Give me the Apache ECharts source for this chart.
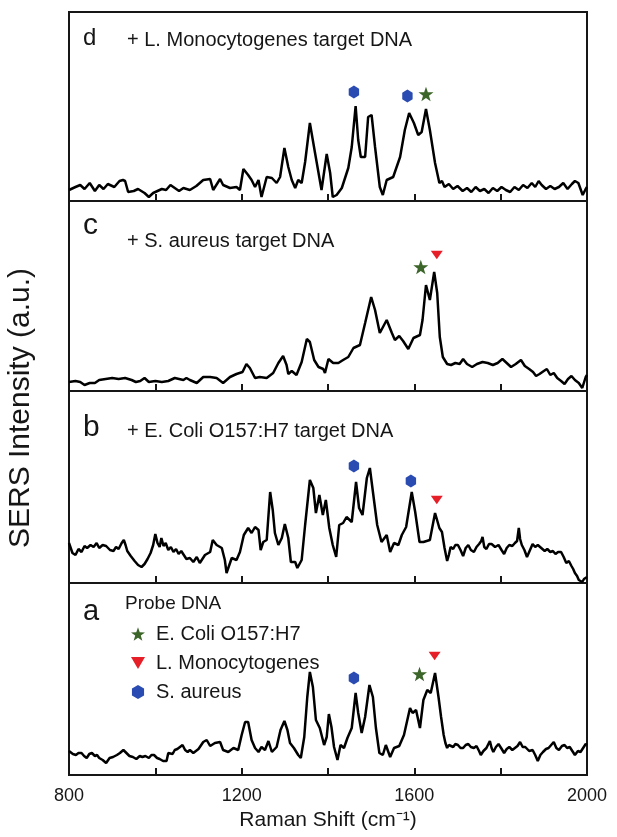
<!DOCTYPE html>
<html>
<head>
<meta charset="utf-8">
<script src="https://cdn.jsdelivr.net/npm/echarts@6/dist/echarts.min.js"></script>
<style>
  html, body { margin: 0; padding: 0; background: #fff; }
  #chart { width: 617px; height: 837px; }
</style>
</head>
<body>
<div id="chart"></div>
<script>
// Raman shift (cm-1), intensity (a.u., arbitrary offset)
const specD = [
  [800,11],[804,12],[815,14],[826,16],[836,12],[848,18],[860,10],[870,16],[880,12],[890,17],[905,14],[917,20],[925,21],[930,20],[937,9],
  [950,10],[960,12],[975,8],[985,4],[995,8],[1005,10],[1015,12],[1025,11],[1035,16],[1045,13],[1055,10],[1065,13],
  [1080,11],[1095,15],[1111,21],[1127,22],[1134,11],[1150,22],[1157,16],[1173,13],[1188,14],[1196,11],[1204,32],[1215,26],[1223,21],
  [1231,14],[1239,21],[1246,4],[1258,24],[1270,23],[1281,18],[1289,24],[1299,53],[1308,34],[1316,21],[1324,13],[1331,21],[1339,18],
  [1347,39],[1358,78],[1370,48],[1385,11],[1397,47],[1405,28],[1411,4],[1420,6],[1432,13],[1447,33],[1455,54],[1464,95],[1470,61],
  [1476,44],[1486,44],[1493,84],[1501,86],[1509,54],[1520,14],[1527,6],[1536,21],[1551,24],[1567,44],[1578,71],[1588,88],[1599,78],
  [1609,66],[1617,69],[1627,92],[1636,71],[1648,38],[1658,18],
  [1664,20],[1670,14],[1680,17],[1690,12],[1700,15],[1712,10],[1722,13],[1732,9],[1742,14],[1752,10],[1762,12],[1772,8],[1782,13],
  [1792,10],[1802,14],[1812,11],[1822,9],[1832,14],[1842,11],[1852,16],[1862,13],[1872,18],[1880,14],[1888,20],[1895,16],[1905,12],
  [1915,15],[1925,12],[1935,14],[1945,18],[1955,12],[1965,17],[1972,20],[1980,18],[1990,6],[1997,12],[2000,14]
];
const specC = [
  [800,9],[804,9],[815,10],[826,9],[836,6],[848,8],[860,8],[870,11],[885,12],[900,13],[915,12],[930,13],[945,11],[955,9],[965,10],
  [975,13],[985,9],[1000,10],[1015,9],[1030,10],[1045,13],[1055,12],[1065,11],[1072,13],
  [1080,11],[1096,8],[1111,14],[1127,14],[1142,13],[1157,8],[1173,14],[1188,17],[1202,19],[1211,27],[1219,23],[1231,13],[1242,14],
  [1258,13],[1273,18],[1285,28],[1296,35],[1304,26],[1308,17],[1316,20],[1327,16],[1339,29],[1351,52],[1358,49],[1368,31],[1378,24],
  [1389,22],[1393,18],[1401,32],[1412,28],[1424,28],[1435,31],[1447,34],[1459,43],[1474,46],[1486,68],[1500,94],[1509,81],[1520,58],
  [1536,71],[1548,58],[1555,51],[1565,55],[1574,50],[1586,42],[1598,53],[1613,56],[1619,71],[1627,106],[1636,91],[1646,119],[1653,98],
  [1659,54],
  [1666,34],[1676,27],[1685,26],[1695,28],[1705,27],[1713,32],[1722,27],[1734,24],[1745,27],[1758,29],[1770,28],[1782,26],[1793,28],
  [1804,32],[1814,28],[1824,24],[1835,27],[1847,31],[1856,25],[1866,22],[1875,19],[1882,15],[1890,17],[1900,20],[1907,22],[1915,16],
  [1923,18],[1931,13],[1940,10],[1948,7],[1956,12],[1964,15],[1972,11],[1981,8],[1989,3],[1997,14],[2000,16]
];
const specB = [
  [800,40],[802,39],[808,30],[815,28],[822,34],[829,31],[836,37],[842,35],[850,38],[857,36],[864,40],[870,35],[878,38],[886,37],
  [895,33],[903,32],[909,36],[915,34],[922,40],[927,43],[931,38],[935,32],[943,27],[952,22],[960,18],[968,16],[975,19],[982,24],
  [989,30],[995,38],[1000,49],[1005,40],[1010,36],[1014,45],[1019,37],[1024,40],[1030,33],[1036,36],[1042,31],[1048,34],[1054,29],
  [1060,32],[1066,28],[1072,24],[1076,22],
  [1080,25],[1088,21],[1096,26],[1103,20],[1115,28],[1127,31],[1133,43],[1142,38],[1154,35],[1161,23],[1165,10],[1177,25],[1188,23],
  [1196,31],[1205,48],[1215,55],[1223,50],[1231,56],[1239,53],[1244,33],[1250,41],[1258,43],[1266,91],[1272,73],[1277,50],[1285,38],
  [1293,45],[1300,59],[1308,45],[1314,21],[1324,21],[1329,15],[1339,23],[1347,58],[1358,103],[1366,95],[1372,70],[1380,88],[1388,68],
  [1395,83],[1403,55],[1411,38],[1419,26],[1426,58],[1435,60],[1443,66],[1455,61],[1465,101],[1472,75],[1480,68],[1490,105],[1497,115],
  [1505,88],[1514,58],[1524,41],[1536,48],[1544,31],[1553,40],[1563,38],[1571,48],[1581,56],[1594,91],[1602,71],[1612,41],[1621,41],
  [1636,43],[1648,70],[1658,55],
  [1664,51],[1670,35],[1676,22],[1680,28],[1684,36],[1690,34],[1695,38],[1701,38],[1707,33],[1713,27],[1719,35],[1725,38],[1731,33],
  [1738,31],[1744,36],[1750,39],[1755,42],[1758,46],[1762,36],[1767,34],[1773,39],[1779,39],[1787,36],[1795,38],[1802,33],[1808,29],
  [1814,35],[1820,38],[1827,37],[1833,40],[1838,42],[1842,55],[1845,44],[1849,38],[1855,33],[1861,26],[1868,33],[1874,39],[1880,36],
  [1886,38],[1894,35],[1902,32],[1908,34],[1915,31],[1921,32],[1927,29],[1933,31],[1940,31],[1946,26],[1952,20],[1958,22],[1964,17],
  [1968,14],[1972,10],[1977,7],[1981,3],[1985,2],[1989,1],[1993,4],[1997,5],[2000,6]
];
const specA = [
  [800,24],[802,23],[809,21],[816,20],[822,22],[829,22],[835,19],[841,17],[847,21],[853,22],[860,19],[865,20],[870,17],[878,15],
  [886,12],[894,17],[902,18],[911,20],[918,22],[926,25],[933,22],[940,19],[948,18],[956,16],[964,19],[970,18],[977,19],[985,17],
  [991,20],[997,20],[1004,17],[1010,16],[1018,14],[1026,14],[1030,22],[1034,23],[1040,21],[1045,25],[1051,26],[1057,28],[1063,30],
  [1069,25],[1075,23],
  [1080,25],[1088,22],[1100,26],[1111,33],[1119,35],[1127,29],[1138,32],[1150,33],[1157,25],[1169,23],[1181,27],[1192,25],[1200,40],
  [1208,53],[1215,53],[1223,35],[1231,27],[1239,23],[1246,28],[1254,25],[1262,34],[1270,23],[1281,28],[1290,45],[1299,54],[1306,45],
  [1312,32],[1321,27],[1331,20],[1337,17],[1345,38],[1352,78],[1358,103],[1365,88],[1372,55],[1381,47],[1391,30],[1397,38],[1402,61],
  [1408,48],[1414,28],[1422,15],[1429,30],[1437,27],[1445,37],[1455,47],[1464,82],[1470,62],[1478,42],[1486,58],[1496,90],[1504,78],
  [1511,47],[1519,22],[1527,20],[1534,30],[1544,18],[1553,27],[1565,29],[1576,40],[1590,67],[1596,62],[1604,65],[1613,47],[1621,75],
  [1630,85],[1638,82],[1648,102],[1656,78],
  [1662,58],[1668,40],[1672,32],[1676,27],[1680,30],[1684,31],[1690,28],[1695,31],[1701,30],[1707,27],[1713,27],[1719,30],[1725,31],
  [1731,28],[1738,27],[1744,29],[1750,24],[1754,20],[1760,24],[1767,27],[1771,29],[1775,34],[1779,27],[1783,23],[1789,28],[1795,31],
  [1801,27],[1808,22],[1814,26],[1820,28],[1827,25],[1833,27],[1839,29],[1845,33],[1851,28],[1857,28],[1866,24],[1874,25],[1880,20],
  [1886,14],[1892,20],[1898,23],[1905,26],[1911,27],[1917,30],[1923,33],[1929,27],[1935,25],[1942,29],[1948,30],[1954,27],[1960,28],
  [1966,24],[1972,20],[1979,24],[1985,23],[1991,27],[1997,31],[2000,30]
];

// peak markers per panel [shift, height]
const hexMarks  = [[[1460,109],[1584,105]], [], [[1460,117],[1592,102]], [[1460,97]]];
const starMarks = [[[1627,107]], [[1615,124]], [], [[1612,101]]];
const triMarks  = [[], [[1652,136]], [[1652,83]], [[1647,119]]];

const xLabels = [800, 1200, 1600, 2000];
const panelLetters = ['d', 'c', 'b', 'a'];
const panelNotes = ['+ L. Monocytogenes target DNA', '+ S. aureus target DNA', '+ E. Coli O157:H7 target DNA', 'Probe DNA'];
const spectra = [specD, specC, specB, specA];

const FONT = '"Liberation Sans", Arial, Helvetica, sans-serif';
const INK = '#161616';
const HEX = 'path://M0,-1 L0.866,-0.5 L0.866,0.5 L0,1 L-0.866,0.5 L-0.866,-0.5 Z';
const STAR = 'path://M0,-10 L2.35,-3.24 L9.51,-3.09 L3.8,1.24 L5.88,8.09 L0,4 L-5.88,8.09 L-3.8,1.24 L-9.51,-3.09 L-2.35,-3.24 Z';
const TRI = 'path://M-1,-0.87 L1,-0.87 L0,0.87 Z';

const panels = [
  { top: 12, height: 189, letterY: 38, letterSize: 24, noteY: 40 },
  { top: 201, height: 190, letterY: 226, letterSize: 30, noteY: 241 },
  { top: 391, height: 192, letterY: 428, letterSize: 30, noteY: 431 },
  { top: 583, height: 192, letterY: 612, letterSize: 29, noteY: 604 }
];

const chart = echarts.init(document.getElementById('chart'), null, { renderer: 'canvas' });

const grid = [], xAxis = [], yAxis = [], series = [], graphic = [];

panels.forEach((p, i) => {
  const last = i === panels.length - 1;
  grid.push({
    left: 69, right: 30, top: p.top, height: p.height,
    show: true, borderColor: INK, borderWidth: 2, backgroundColor: 'transparent'
  });
  xAxis.push({
    type: 'value', gridIndex: i, min: 800, max: 2000, interval: 200,
    axisLine: { show: false },
    axisTick: { show: true, inside: true, length: 7, lineStyle: { color: INK, width: 2 } },
    splitLine: { show: false },
    axisLabel: {
      show: last, margin: 12, fontSize: 18, color: INK, fontFamily: FONT,
      formatter: v => (xLabels.includes(v) ? String(v) : '')
    },
    name: last ? 'Raman Shift (cm\u207B\u00B9)' : '',
    nameLocation: 'middle', nameGap: 35,
    nameTextStyle: { fontSize: 21, color: INK, fontFamily: FONT }
  });
  yAxis.push({ type: 'value', gridIndex: i, min: 0, max: p.height, show: false });

  series.push({
    type: 'line', xAxisIndex: i, yAxisIndex: i, data: spectra[i],
    showSymbol: false, lineStyle: { color: '#000', width: 2.5 }, silent: true, z: 3
  });
  series.push({
    name: 'S. aureus', type: 'scatter', xAxisIndex: i, yAxisIndex: i, data: hexMarks[i],
    symbol: HEX, symbolSize: [12, 13], symbolKeepAspect: true, itemStyle: { color: '#2a4cb2', opacity: 1 }, z: 4
  });
  series.push({
    name: 'E. Coli O157:H7', type: 'scatter', xAxisIndex: i, yAxisIndex: i, data: starMarks[i],
    symbol: STAR, symbolSize: 15, symbolKeepAspect: true, itemStyle: { color: '#3b6529', opacity: 1 }, z: 4
  });
  series.push({
    name: 'L. Monocytogenes', type: 'scatter', xAxisIndex: i, yAxisIndex: i, data: triMarks[i],
    symbol: TRI, symbolSize: [12, 10], symbolKeepAspect: true, itemStyle: { color: '#e61e28', opacity: 1 }, z: 4
  });

  graphic.push({
    type: 'text', left: 83, top: p.letterY - p.letterSize / 2,
    style: { text: panelLetters[i], fontSize: p.letterSize, fontFamily: FONT, fill: INK }
  });
  graphic.push({
    type: 'text', left: last ? 125 : 127, top: p.noteY - 10,
    style: { text: panelNotes[i], fontSize: last ? 19 : 20, fontFamily: FONT, fill: INK }
  });
});

graphic.push({
  type: 'text', x: 21, y: 408, rotation: Math.PI / 2,
  style: { text: 'SERS Intensity (a.u.)', fontSize: 30, fontFamily: FONT, fill: INK, align: 'center', verticalAlign: 'middle' }
});

chart.setOption({
  animation: false,
  backgroundColor: '#fff',
  grid, xAxis, yAxis, series, graphic,
  legend: {
    orient: 'vertical', left: 126, top: 619, itemWidth: 14, itemHeight: 14, itemGap: 9,
    data: ['E. Coli O157:H7', 'L. Monocytogenes', 'S. aureus'],
    textStyle: { fontSize: 20, lineHeight: 20, color: INK, fontFamily: FONT, padding: [0, 0, 0, 6] },
    selectedMode: false
  }
});
</script>
</body>
</html>
